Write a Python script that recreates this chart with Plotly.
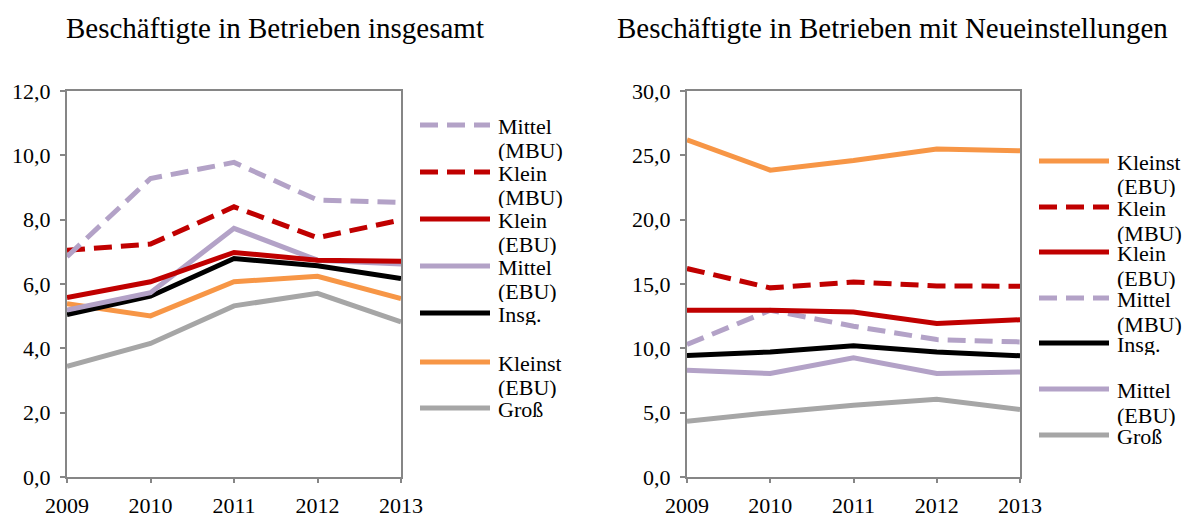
import plotly.graph_objects as go

W, H = 1186, 513
years = [2009, 2010, 2011, 2012, 2013]

# Left chart: Beschäftigte in Betrieben insgesamt
left_names = ["Mittel<br>(MBU)", "Klein<br>(MBU)", "Klein<br>(EBU)", "Mittel<br>(EBU)", "Insg.", "Kleinst<br>(EBU)", "Groß"]
left_mittel_mbu = [6.85, 9.28, 9.78, 8.61, 8.54]
left_klein_mbu = [7.05, 7.24, 8.40, 7.44, 7.99]
left_klein_ebu = [5.58, 6.07, 6.98, 6.74, 6.71]
left_mittel_ebu = [5.19, 5.73, 7.73, 6.74, 6.62]
left_insg = [5.05, 5.62, 6.79, 6.57, 6.17]
left_kleinst_ebu = [5.39, 5.01, 6.07, 6.24, 5.55]
left_gross = [3.44, 4.15, 5.32, 5.71, 4.82]

# Right chart: Beschäftigte in Betrieben mit Neueinstellungen
right_names = ["Kleinst<br>(EBU)", "Klein<br>(MBU)", "Klein<br>(EBU)", "Mittel<br>(MBU)", "Insg.", "Mittel<br>(EBU)", "Groß"]
right_kleinst_ebu = [26.2, 23.85, 24.6, 25.5, 25.35]
right_klein_mbu = [16.2, 14.7, 15.15, 14.85, 14.83]
right_klein_ebu = [12.96, 12.96, 12.83, 11.93, 12.22]
right_mittel_mbu = [10.3, 12.96, 11.72, 10.68, 10.5]
right_insg = [9.45, 9.72, 10.2, 9.72, 9.42]
right_mittel_ebu = [8.3, 8.04, 9.26, 8.04, 8.17]
right_gross = [4.33, 5.0, 5.57, 6.04, 5.24]

LAV = "#B3A2C7"
RED = "#C00000"
ORA = "#F79646"
GRY = "#A6A6A6"
BLK = "#000000"
DASH = "18px,9px"
FONT = "Times New Roman, Liberation Serif, serif"

left_series = [
    (left_names[0], left_mittel_mbu, LAV, DASH),
    (left_names[1], left_klein_mbu, RED, DASH),
    (left_names[2], left_klein_ebu, RED, "solid"),
    (left_names[3], left_mittel_ebu, LAV, "solid"),
    (left_names[4], left_insg, BLK, "solid"),
    (left_names[5], left_kleinst_ebu, ORA, "solid"),
    (left_names[6], left_gross, GRY, "solid"),
]
right_series = [
    (right_names[0], right_kleinst_ebu, ORA, "solid"),
    (right_names[1], right_klein_mbu, RED, DASH),
    (right_names[2], right_klein_ebu, RED, "solid"),
    (right_names[3], right_mittel_mbu, LAV, DASH),
    (right_names[4], right_insg, BLK, "solid"),
    (right_names[5], right_mittel_ebu, LAV, "solid"),
    (right_names[6], right_gross, GRY, "solid"),
]

fig = go.Figure()

def px_x(p):
    return p / W

def px_y(p):
    return 1 - p / H

for name, vals, col, dash in reversed(left_series):
    fig.add_trace(go.Scatter(x=years, y=vals, mode="lines", name=name, showlegend=False,
                             line=dict(color=col, width=5, dash=dash), xaxis="x", yaxis="y"))
for name, vals, col, dash in reversed(right_series):
    fig.add_trace(go.Scatter(x=years, y=vals, mode="lines", name=name, showlegend=False,
                             line=dict(color=col, width=5, dash=dash), xaxis="x2", yaxis="y2"))

axcol = "#868686"
common_x = dict(range=[2009, 2013], tickvals=years, ticks="outside", ticklen=4, tickwidth=2,
                tickcolor=axcol, showline=True, linecolor=axcol, linewidth=2, mirror=True,
                showgrid=False, zeroline=False, automargin=False, ticklabelstandoff=4,
                tickfont=dict(family=FONT, size=22, color="black"))
common_y = dict(ticks="outside", ticklen=5, tickwidth=2, tickcolor=axcol, showline=True,
                linecolor=axcol, linewidth=2, mirror=True, showgrid=False, zeroline=False,
                automargin=False, tickformat=".1f", ticklabelstandoff=5,
                tickfont=dict(family=FONT, size=22, color="black"))

ydom = [px_y(477), px_y(91)]
fig.update_layout(
    width=W, height=H,
    margin=dict(l=0, r=0, t=0, b=0, autoexpand=False),
    paper_bgcolor="white", plot_bgcolor="white",
    separators=",.",
    font=dict(family=FONT, size=22, color="black"),
    xaxis=dict(domain=[px_x(67), px_x(401)], anchor="y", **common_x),
    yaxis=dict(domain=ydom, anchor="x", range=[0, 12], dtick=2, **common_y),
    xaxis2=dict(domain=[px_x(687), px_x(1020)], anchor="y2", **common_x),
    yaxis2=dict(domain=ydom, anchor="x2", range=[0, 30], dtick=5, **common_y),
)

annotations = [
    dict(text="Beschäftigte in Betrieben insgesamt", x=px_x(275), y=px_y(28), xref="paper", yref="paper",
         showarrow=False, xanchor="center", yanchor="middle", font=dict(family=FONT, size=29)),
    dict(text="Beschäftigte in Betrieben mit Neueinstellungen", x=px_x(892), y=px_y(28), xref="paper", yref="paper",
         showarrow=False, xanchor="center", yanchor="middle", font=dict(family=FONT, size=29)),
]
shapes = []

def add_legend(series, x0, x1, xt, ys, gap):
    for (name, vals, col, dash), yy in zip(series, ys):
        shapes.append(dict(type="line", xref="paper", yref="paper", x0=px_x(x0), x1=px_x(x1),
                           y0=px_y(yy), y1=px_y(yy), line=dict(color=col, width=5, dash=dash)))
        for i, part in enumerate(name.split("<br>")):
            annotations.append(dict(text=part, x=px_x(xt), y=px_y(yy + 1 + i * gap), xref="paper", yref="paper",
                                    showarrow=False, xanchor="left", yanchor="middle", height=21,
                                    font=dict(family=FONT, size=22)))

add_legend(left_series, 420, 490, 496, [125, 172, 219, 266, 313, 362, 408], 24)
add_legend(right_series, 1039, 1109, 1115, [161, 207, 252, 298, 343, 389, 435], 25)

fig.update_layout(annotations=annotations, shapes=shapes)
fig.write_html("out.html", config={"displayModeBar": False},
               post_script="document.body.style.margin='0';document.body.style.overflow='hidden';")
